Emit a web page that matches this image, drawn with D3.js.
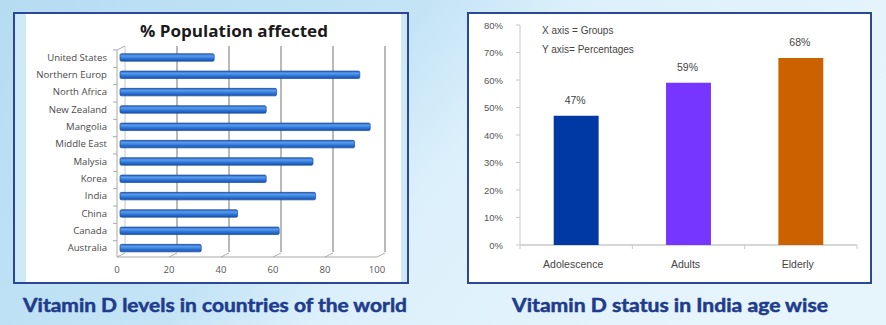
<!DOCTYPE html>
<html>
<head>
<meta charset="utf-8">
<script src="https://cdn.jsdelivr.net/npm/d3@7"></script>
<style>
  body { margin: 0; background: #fff; }
  svg { display: block; }
</style>
</head>
<body>
<svg id="chart" width="886" height="325"></svg>
<script>
// datos del grafico izquierdo
const countries = ["United States", "Northern Europ", "North Africa", "New Zealand", "Mangolia",
  "Middle East", "Malysia", "Korea", "India", "China", "Canada", "Australia"];
const affected = [37, 93, 61, 57, 97, 91, 75, 57, 76, 46, 62, 32];
const xTicks = [0, 20, 40, 60, 80, 100];

// datos del grafico derecho
const groups = ["Adolescence", "Adults", "Elderly"];
const status = [47, 59, 68];
const groupColors = ["#0039a3", "#7636ff", "#cc6100"];
const yTicks = [0, 10, 20, 30, 40, 50, 60, 70, 80];

const svg = d3.select("#chart");
const defs = svg.append("defs");

// fondo azul claro
const bg = defs.append("linearGradient").attr("id", "bg").attr("x1", 0).attr("x2", 1).attr("y1", 0).attr("y2", 0.3);
bg.append("stop").attr("offset", "0%").attr("stop-color", "#b6dcf2");
bg.append("stop").attr("offset", "45%").attr("stop-color", "#c4e4f6");
bg.append("stop").attr("offset", "60%").attr("stop-color", "#dcf0fb");
bg.append("stop").attr("offset", "100%").attr("stop-color", "#e6f4fc");
svg.append("rect").attr("width", 886).attr("height", 325).attr("fill", "url(#bg)");

// gradiente de barras tipo cilindro
const barGrad = defs.append("linearGradient").attr("id", "cyl").attr("x1", 0).attr("x2", 0).attr("y1", 0).attr("y2", 1);
barGrad.append("stop").attr("offset", "0%").attr("stop-color", "#2a62c2");
barGrad.append("stop").attr("offset", "30%").attr("stop-color", "#5a9cec");
barGrad.append("stop").attr("offset", "60%").attr("stop-color", "#2f79dc");
barGrad.append("stop").attr("offset", "100%").attr("stop-color", "#1a4fa8");

const navy = "#2c4796";

// ---------- panel izquierdo ----------
svg.append("rect").attr("x", 14).attr("y", 13).attr("width", 394).attr("height", 270)
  .attr("fill", "#cfe9f8").attr("stroke", navy).attr("stroke-width", 2);
svg.append("rect").attr("x", 26).attr("y", 14).attr("width", 375).attr("height", 268).attr("fill", "#fff");

svg.append("text").attr("x", 234).attr("y", 37).attr("text-anchor", "middle")
  .attr("font-family", "Open Sans, sans-serif").attr("font-weight", "bold").attr("font-size", 16.5)
  .attr("textLength", 188).attr("lengthAdjust", "spacingAndGlyphs")
  .attr("fill", "#1a1a1a").text("% Population affected");

const left = svg.append("g");
const x = d3.scaleLinear().domain([0, 100]).range([117, 377]);
const y = d3.scaleBand().domain(countries).range([48, 256]).paddingInner(0.6).paddingOuter(0.3);
const yb = d3.scaleBand().domain(countries).range([48, 256]);
const dx = 8, dy = -4;

// pared del fondo y rejilla
xTicks.forEach(t => {
  if (t > 0) {
    left.append("line").attr("x1", x(t) + dx).attr("x2", x(t) + dx).attr("y1", 46).attr("y2", 256 + dy)
      .attr("stroke", "#8a8a8a").attr("stroke-width", 1.2);
  }
  left.append("line").attr("x1", x(t)).attr("x2", x(t) + dx).attr("y1", 257).attr("y2", 257 + dy)
    .attr("stroke", "#b0b0b0");
});
left.append("line").attr("x1", x(0) + dx).attr("x2", x(0) + dx).attr("y1", 46).attr("y2", 256 + dy)
  .attr("stroke", "#c8c8c8");
left.append("line").attr("x1", x(0)).attr("x2", x(0) + dx).attr("y1", 50).attr("y2", 46)
  .attr("stroke", "#b0b0b0");

// ejes
left.append("line").attr("x1", x(0)).attr("x2", x(0)).attr("y1", 50).attr("y2", 257).attr("stroke", "#a8a8a8");
left.append("line").attr("x1", x(0)).attr("x2", x(100)).attr("y1", 257).attr("y2", 257).attr("stroke", "#a8a8a8");
countries.forEach(c => {
  left.append("line").attr("x1", x(0) - 4).attr("x2", x(0)).attr("y1", yb(c) + 2).attr("y2", yb(c) + 2)
    .attr("stroke", "#a8a8a8");
});

left.selectAll("text.cat").data(countries).join("text").attr("class", "cat")
  .attr("x", 107).attr("y", d => yb(d) + yb.bandwidth() / 2 + 4)
  .attr("text-anchor", "end").attr("font-family", "Open Sans, sans-serif").attr("font-size", 9.6)
  .attr("fill", "#4a4a4a").text(d => d);

left.selectAll("text.xt").data(xTicks).join("text").attr("class", "xt")
  .attr("x", d => x(d)).attr("y", 273).attr("text-anchor", "middle")
  .attr("font-family", "Open Sans, sans-serif").attr("font-size", 9.5).attr("fill", "#555").text(d => d);

// barras
left.selectAll("rect.bar").data(countries).join("rect").attr("class", "bar")
  .attr("x", x(0) + 3).attr("y", d => y(d) + 0.5)
  .attr("width", (d, i) => x(affected[i]) - x(0) - 2).attr("height", 7.5).attr("rx", 1.5)
  .attr("fill", "url(#cyl)").attr("stroke", "#1b4ea0").attr("stroke-width", 0.7);

svg.append("text").attr("x", 215).attr("y", 312).attr("text-anchor", "middle")
  .attr("font-family", "Lato, sans-serif").attr("font-weight", "bold").attr("font-size", 18)
  .attr("textLength", 384).attr("lengthAdjust", "spacingAndGlyphs")
  .attr("stroke", "#1f3c8c").attr("stroke-width", 0.5)
  .attr("fill", "#1f3c8c").text("Vitamin D levels in countries of the world");

// ---------- panel derecho ----------
svg.append("rect").attr("x", 468).attr("y", 13).attr("width", 403).attr("height", 270)
  .attr("fill", "#fff").attr("stroke", navy).attr("stroke-width", 2);

const right = svg.append("g");
const xr = d3.scaleBand().domain(groups).range([520, 857]).paddingInner(0.6).paddingOuter(0.3);
const xrb = d3.scaleBand().domain(groups).range([520, 857]);
const yr = d3.scaleLinear().domain([0, 80]).range([245, 25]);

right.append("line").attr("x1", 520).attr("x2", 520).attr("y1", 25).attr("y2", 245).attr("stroke", "#c8c8c8");
right.append("line").attr("x1", 520).attr("x2", 857).attr("y1", 245).attr("y2", 245).attr("stroke", "#c8c8c8").attr("stroke-width", 1.5);
yTicks.forEach(t => {
  right.append("line").attr("x1", 516).attr("x2", 520).attr("y1", yr(t)).attr("y2", yr(t)).attr("stroke", "#c8c8c8");
});
groups.concat(["end"]).forEach((g, i) => {
  const xx = i < groups.length ? xrb(g) : 857;
  right.append("line").attr("x1", xx).attr("x2", xx).attr("y1", 245).attr("y2", 249).attr("stroke", "#c8c8c8");
});

right.selectAll("text.yt").data(yTicks).join("text").attr("class", "yt")
  .attr("x", 503).attr("y", d => yr(d) + 3.5).attr("text-anchor", "end")
  .attr("font-family", "Liberation Sans, Arial, sans-serif").attr("font-size", 9.5)
  .attr("fill", "#555").text(d => d + "%");

right.selectAll("rect.bar").data(groups).join("rect").attr("class", "bar")
  .attr("x", d => xr(d)).attr("width", xr.bandwidth())
  .attr("y", (d, i) => yr(status[i])).attr("height", (d, i) => yr(0) - yr(status[i]))
  .attr("fill", (d, i) => groupColors[i]);

right.selectAll("text.val").data(groups).join("text").attr("class", "val")
  .attr("x", d => xr(d) + xr.bandwidth() / 2 - 1).attr("y", (d, i) => yr(status[i]) - 12)
  .attr("text-anchor", "middle").attr("font-family", "Liberation Sans, Arial, sans-serif")
  .attr("font-size", 10.5).attr("fill", "#444").text((d, i) => status[i] + "%");

right.selectAll("text.cat").data(groups).join("text").attr("class", "cat")
  .attr("x", d => xr(d) + xr.bandwidth() / 2 - 3).attr("y", 268)
  .attr("text-anchor", "middle").attr("font-family", "Liberation Sans, Arial, sans-serif")
  .attr("font-size", 10.5).attr("fill", "#444").text(d => d);

right.append("text").attr("x", 542).attr("y", 34).attr("font-family", "Liberation Sans, Arial, sans-serif")
  .attr("font-size", 10).attr("fill", "#444").text("X axis = Groups");
right.append("text").attr("x", 542).attr("y", 53).attr("font-family", "Liberation Sans, Arial, sans-serif")
  .attr("font-size", 10).attr("fill", "#444").text("Y axis= Percentages");

svg.append("text").attr("x", 670).attr("y", 312).attr("text-anchor", "middle")
  .attr("font-family", "Lato, sans-serif").attr("font-weight", "bold").attr("font-size", 18)
  .attr("textLength", 316).attr("lengthAdjust", "spacingAndGlyphs")
  .attr("stroke", "#1f3c8c").attr("stroke-width", 0.5)
  .attr("fill", "#1f3c8c").text("Vitamin D status in India age wise");
</script>
</body>
</html>
